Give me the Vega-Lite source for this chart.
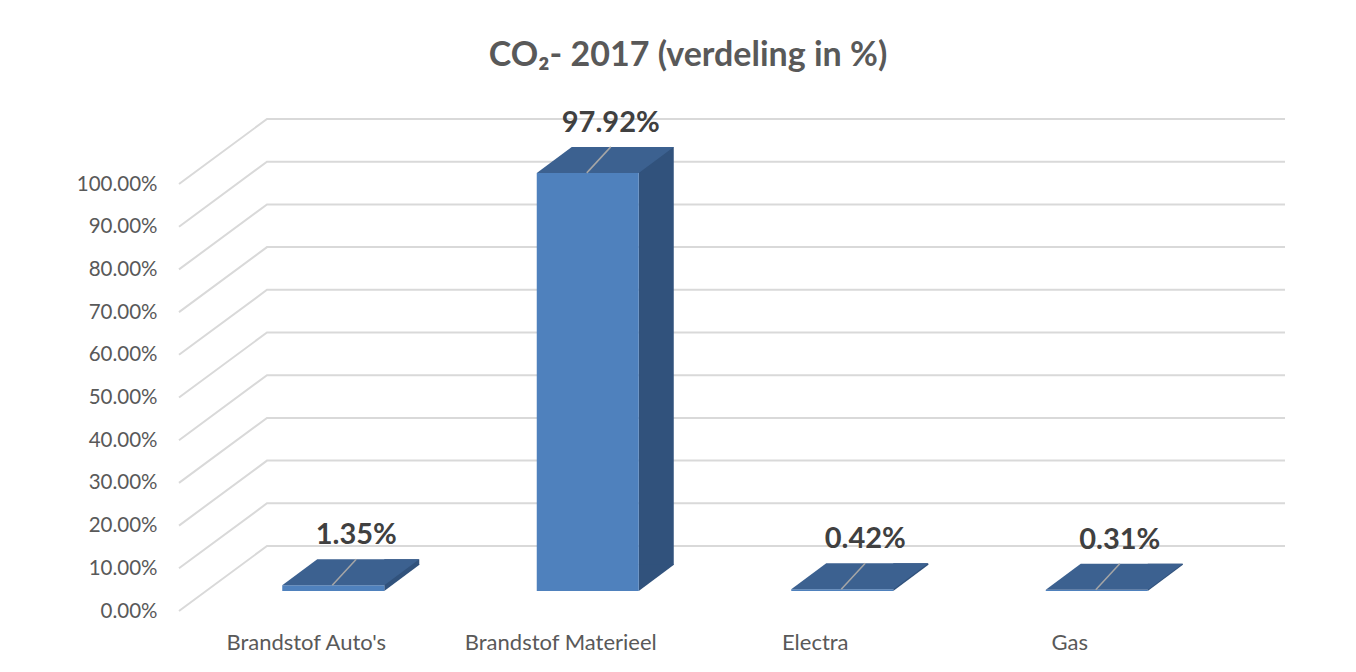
{
  "$schema": "https://vega.github.io/schema/vega-lite/v6.json",
  "width": 1018,
  "height": 427,
  "autosize": {"type": "none"},
  "padding": {"left": 179, "top": 184, "right": 159, "bottom": 61},
  "background": "white",
  "config": {
    "view": {"stroke": null},
    "font": "Lato"
  },
  "title": {
    "text": "CO₂- 2017 (verdeling in %)",
    "font": "Lato",
    "fontSize": 34,
    "fontWeight": "bold",
    "color": "#595959",
    "anchor": "middle",
    "baseline": "alphabetic",
    "offset": 9
  },
  "datasets": {
    "co2": [
      {"categorie": "Brandstof Auto's", "aandeel": 0.0135},
      {"categorie": "Brandstof Materieel", "aandeel": 0.9792},
      {"categorie": "Electra", "aandeel": 0.0042},
      {"categorie": "Gas", "aandeel": 0.0031}
    ],
    "raster": [
      {"v": 0}, {"v": 0.1}, {"v": 0.2}, {"v": 0.3}, {"v": 0.4}, {"v": 0.5},
      {"v": 0.6}, {"v": 0.7}, {"v": 0.8}, {"v": 0.9}, {"v": 1.0}
    ]
  },
  "layer": [
    {
      "data": {"name": "raster"},
      "mark": {"type": "point", "shape": "M0,0 L88,-65 L1106,-65", "size": 4, "filled": false, "stroke": "#d9d9d9", "strokeWidth": 2, "opacity": 1},
      "encoding": {
        "x": {"value": 0},
        "y": {"field": "v", "type": "quantitative", "scale": {"domain": [0, 1], "nice": false},
          "axis": {"format": ".2%", "values": [0, 0.1, 0.2, 0.3, 0.4, 0.5, 0.6, 0.7, 0.8, 0.9, 1.0], "grid": false, "domain": false, "ticks": false, "labelPadding": 22, "labelFont": "Lato", "labelFontSize": 20.5, "labelColor": "#595959", "title": null}}
      }
    },
    {
      "data": {"name": "co2"},
      "mark": {"type": "bar", "width": 35, "xOffset": 95.5, "yOffset": -46, "color": "#31527c"},
      "encoding": {
        "x": {"field": "categorie", "type": "nominal", "sort": null,
          "scale": {"paddingInner": 0.6, "paddingOuter": 0.3},
          "axis": {"labelAngle": 0, "labelPadding": 21, "labelLimit": 0, "labelFont": "Lato", "labelFontSize": 22, "labelColor": "#595959", "domain": false, "ticks": false, "title": null}},
        "y": {"field": "aandeel", "type": "quantitative"}
      }
    },
    {
      "data": {"name": "co2"},
      "mark": {"type": "point", "shape": "M78,-46.5 L78,-20 L113.5,-46.5 Z", "size": 4, "filled": true, "fill": "#31527c", "strokeWidth": 0, "opacity": 1},
      "encoding": {
        "x": {"field": "categorie", "type": "nominal", "sort": null},
        "y": {"datum": 0, "type": "quantitative"}
      }
    },
    {
      "data": {"name": "co2"},
      "mark": {"type": "bar", "width": 102, "xOffset": 27, "yOffset": -20, "color": "#4f81bd"},
      "encoding": {
        "x": {"field": "categorie", "type": "nominal", "sort": null},
        "y": {"field": "aandeel", "type": "quantitative"}
      }
    },
    {
      "data": {"name": "co2"},
      "mark": {"type": "point", "shape": "M-24,-20 L78,-20 L113,-46 L11,-46 Z", "size": 4, "filled": true, "fill": "#3c6190", "strokeWidth": 0, "opacity": 1},
      "encoding": {
        "x": {"field": "categorie", "type": "nominal", "sort": null},
        "y": {"field": "aandeel", "type": "quantitative"}
      }
    },
    {
      "data": {"name": "co2"},
      "mark": {"type": "point", "shape": "M26,-20 L50,-46", "size": 4, "filled": false, "stroke": "#a6a6a6", "strokeWidth": 1.5, "opacity": 1},
      "encoding": {
        "x": {"field": "categorie", "type": "nominal", "sort": null},
        "y": {"field": "aandeel", "type": "quantitative"}
      }
    },
    {
      "data": {"name": "co2"},
      "mark": {"type": "text", "dx": 50, "dy": -61, "baseline": "alphabetic", "align": "center", "font": "Lato", "fontSize": 29, "fontWeight": "bold", "color": "#404040"},
      "encoding": {
        "x": {"field": "categorie", "type": "nominal", "sort": null},
        "y": {"field": "aandeel", "type": "quantitative"},
        "text": {"field": "aandeel", "type": "quantitative", "format": ".2%"}
      }
    }
  ]
}
